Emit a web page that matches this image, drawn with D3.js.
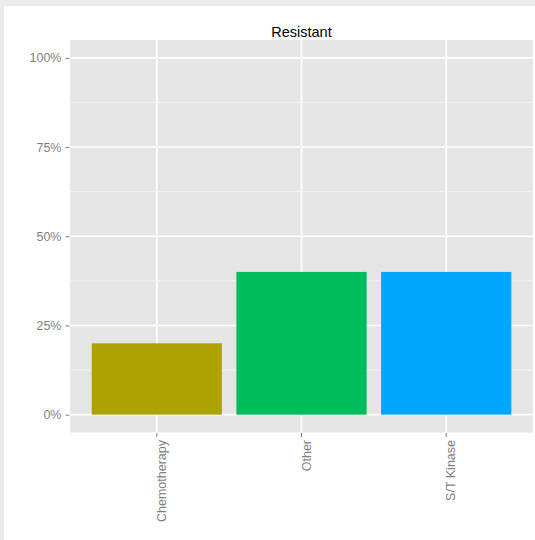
<!DOCTYPE html>
<html>
<head>
<meta charset="utf-8">
<script src="https://cdn.jsdelivr.net/npm/d3@7"></script>
<style>
  html, body { margin: 0; padding: 0; background: #ebebeb; }
  svg { display: block; }
  text { font-family: "Liberation Sans", Arial, Helvetica, sans-serif; }
</style>
</head>
<body>
<svg id="chart" width="535" height="540"></svg>
<script>
// Share of resistant cases by drug class
const categories = ["Chemotherapy", "Other", "S/T Kinase"];
const shares = [20, 40, 40];
const barColors = ["#AEA200", "#00BD5C", "#00A6FF"];
const yTicks = [0, 25, 50, 75, 100];
const yMinorTicks = [12.5, 37.5, 62.5, 87.5];
const title = "Resistant";

const svg = d3.select("#chart");

// white card behind the plot
svg.append("rect")
  .attr("x", 4).attr("y", 6)
  .attr("width", 531).attr("height", 534)
  .attr("fill", "#ffffff");

const panel = { left: 70, top: 40, right: 533, bottom: 432.5 };

// bars take 90% of each slot; 0.6 slot from panel edge to first/last centre
const x = d3.scaleBand()
  .domain(categories)
  .range([panel.left, panel.right])
  .paddingInner(0.1)
  .paddingOuter(0.15);

// continuous y with 5% expansion on both ends
const y = d3.scaleLinear()
  .domain([-5, 105])
  .range([panel.bottom, panel.top]);

// panel background
svg.append("rect")
  .attr("x", panel.left).attr("y", panel.top)
  .attr("width", panel.right - panel.left)
  .attr("height", panel.bottom - panel.top)
  .attr("fill", "#e5e5e5");

// minor grid
svg.append("g").selectAll("line")
  .data(yMinorTicks).join("line")
  .attr("x1", panel.left).attr("x2", panel.right)
  .attr("y1", d => y(d)).attr("y2", d => y(d))
  .attr("stroke", "#f2f2f2").attr("stroke-width", 1);

// major grid
svg.append("g").selectAll("line")
  .data(yTicks).join("line")
  .attr("x1", panel.left).attr("x2", panel.right)
  .attr("y1", d => y(d)).attr("y2", d => y(d))
  .attr("stroke", "#ffffff").attr("stroke-width", 1.6);

svg.append("g").selectAll("line")
  .data(categories).join("line")
  .attr("x1", d => x(d) + x.bandwidth() / 2)
  .attr("x2", d => x(d) + x.bandwidth() / 2)
  .attr("y1", panel.top).attr("y2", panel.bottom)
  .attr("stroke", "#ffffff").attr("stroke-width", 1.6);

// bars
svg.append("g").selectAll("rect")
  .data(categories.map((c, i) => ({ c, v: shares[i], col: barColors[i] })))
  .join("rect")
  .attr("x", d => x(d.c))
  .attr("width", x.bandwidth())
  .attr("y", d => y(d.v))
  .attr("height", d => y(0) - y(d.v))
  .attr("fill", d => d.col);

// y axis
const yAxis = d3.axisLeft(y)
  .tickValues(yTicks)
  .tickFormat(d => d + "%")
  .tickSizeInner(4)
  .tickSizeOuter(0)
  .tickPadding(4);

const gy = svg.append("g")
  .attr("transform", `translate(${panel.left - 0.5},0)`)
  .call(yAxis);
gy.select(".domain").remove();
gy.selectAll(".tick line").attr("stroke", "#7f7f7f");
gy.selectAll(".tick text")
  .attr("fill", "#7f7f7f")
  .style("font-size", "12.5px");

// x axis
const xAxis = d3.axisBottom(x)
  .tickSizeInner(4)
  .tickSizeOuter(0);

const gx = svg.append("g")
  .attr("transform", `translate(0,${panel.bottom + 0.5})`)
  .call(xAxis);
gx.select(".domain").remove();
gx.selectAll(".tick line").attr("stroke", "#7f7f7f");
gx.selectAll(".tick text")
  .attr("fill", "#7f7f7f")
  .style("font-size", "12.5px")
  .attr("text-anchor", "end")
  .attr("x", 0)
  .attr("y", 0)
  .attr("dy", "0.72em")
  .attr("transform", "translate(0,7) rotate(-90)");

// title
svg.append("text")
  .attr("x", (panel.left + panel.right) / 2)
  .attr("y", 36.5)
  .attr("text-anchor", "middle")
  .attr("fill", "#000000")
  .style("font-size", "14.5px")
  .text(title);
</script>
</body>
</html>
